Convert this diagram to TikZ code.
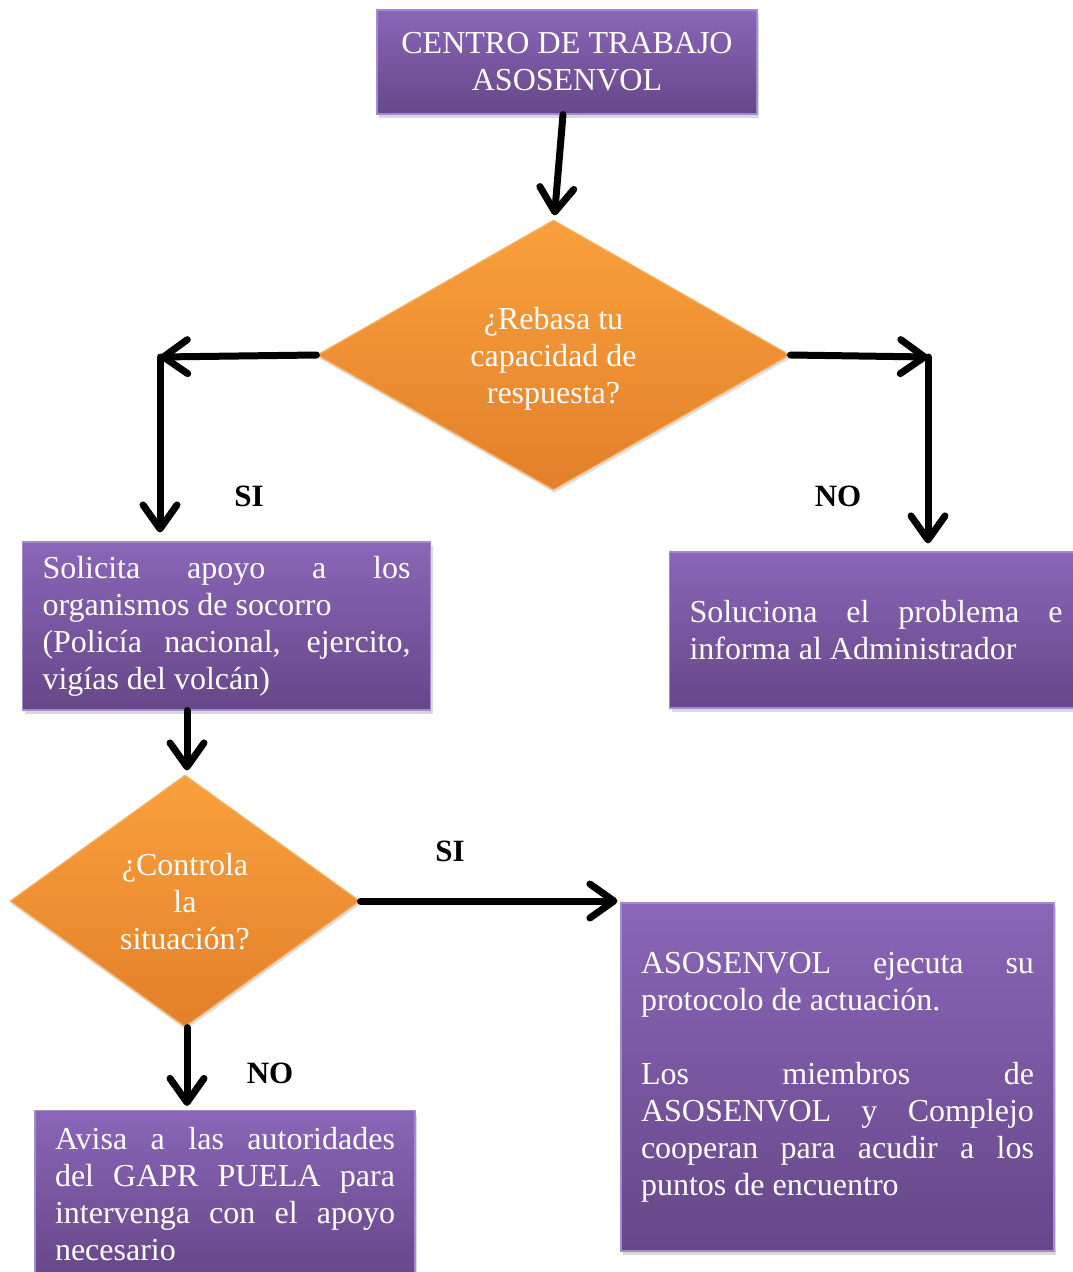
\documentclass[tikz,border=0pt]{standalone}
\usepackage{fontspec}
\setmainfont{Liberation Serif}
\usepackage{xcolor}
\usepackage{tikz}
\usetikzlibrary{arrows.meta,positioning,shapes.geometric,shadows}
\definecolor{cPurTop}{HTML}{8A66B8}
\definecolor{cPurBot}{HTML}{664788}
\definecolor{cPurEdge}{HTML}{A48ACF}
\definecolor{cOrgTop}{HTML}{F9A03C}
\definecolor{cOrgBot}{HTML}{E3802A}
\definecolor{cOrgEdge}{HTML}{F4B46A}
\newcommand{\jl}[1]{{\spaceskip=.25em plus 1fil\makebox[\linewidth][s]{#1}}}
\tikzset{
  pbox/.style={rectangle,top color=cPurTop,bottom color=cPurBot,draw=cPurEdge,line width=1.2pt,
    inner xsep=20pt,inner ysep=4pt,text=white,font=\fontsize{32}{37}\selectfont,
    execute at begin node={\spaceskip=0pt\xspaceskip=0pt\relax},
    drop shadow={shadow xshift=2pt,shadow yshift=-4pt,opacity=0.3}},
  dbox/.style={diamond,top color=cOrgTop,bottom color=cOrgBot,draw=cOrgEdge,line width=1.2pt,
    inner sep=0pt,align=center,text=white,font=\fontsize{32}{37}\selectfont,text depth=0pt,
    execute at begin node={\spaceskip=0pt\xspaceskip=0pt\relax},
    drop shadow={shadow xshift=1pt,shadow yshift=-3pt,opacity=0.25}},
  arr/.style={-{Straight Barb[length=24pt,width=34pt,round]},line width=7pt,line cap=round,color=black},
  lbl/.style={font=\fontsize{31}{37}\selectfont\bfseries,text=black},
}

\begin{document}
\begin{tikzpicture}[x=1pt,y=-1pt]
  \useasboundingbox (0,0) rectangle (1073,1272);
  % nodes
  \node[pbox,text width=340pt,minimum height=104pt,align=center] (centro) at (567,62)
    {CENTRO DE TRABAJO\\ASOSENVOL};
  \node[dbox,minimum width=473pt,minimum height=270pt] (rebasa) at (553.5,355)
    {¿Rebasa tu\\capacidad de\\respuesta?};
  \node[pbox,text width=368pt,minimum height=168pt,align=left] (solicita) at (226.5,626)
    {\jl{Solicita apoyo a los}\\organismos de socorro\\\jl{(Policía nacional, ejercito,}\\vigías del volcán)};
  \node[pbox,text width=373pt,minimum height=156pt,align=left] (soluciona) at (876,630)
    {\jl{Soluciona el problema e}\\informa al Administrador};
  \node[dbox,minimum width=350pt,minimum height=252pt] (controla) at (185,901)
    {¿Controla\\la\\situación?};
  \node[pbox,text width=393pt,minimum height=348pt,align=left] (ejecuta) at (837.5,1077)
    {\jl{ASOSENVOL ejecuta su}\\protocolo de actuación.\\[37pt]\jl{Los miembros de}\\\jl{ASOSENVOL y Complejo}\\\jl{cooperan para acudir a los}\\puntos de encuentro};
  \node[pbox,text width=340pt,minimum height=167pt,align=left] (avisa) at (225,1194)
    {\jl{Avisa a las autoridades}\\\jl{del GAPR PUELA para}\\\jl{intervenga con el apoyo}\\necesario};
  % labels
  \node[lbl] (siA) at (249,496) {SI};
  \node[lbl] (noA) at (838,496) {NO};
  \node[lbl] (siB) at (450,851) {SI};
  \node[lbl] (noB) at (270,1073) {NO};
  % connectors
  \coordinate (esqI) at (160,357);
  \coordinate (esqD) at (928,357);
  \draw[arr] ([xshift=-4pt]centro.south) -- ([xshift=1pt,yshift=4pt]rebasa.north);
  \draw[arr] (rebasa.west) -- (esqI);
  \draw[arr] (esqI) -- ([yshift=9pt]solicita.north -| esqI);
  \draw[arr] (rebasa.east) -- (esqD);
  \draw[arr] (esqD) -- ([yshift=8pt]soluciona.north -| esqD);
  \draw[arr] ([xshift=2pt]solicita.south -| controla.north) -- ([xshift=2pt,yshift=4pt]controla.north);
  \draw[arr] (controla.east) -- ([xshift=-3pt]controla.east -| ejecuta.west);
  \draw[arr] ([xshift=2pt]controla.south) -- ([xshift=2pt,yshift=4pt]avisa.north -| controla.south);
\end{tikzpicture}
\end{document}
